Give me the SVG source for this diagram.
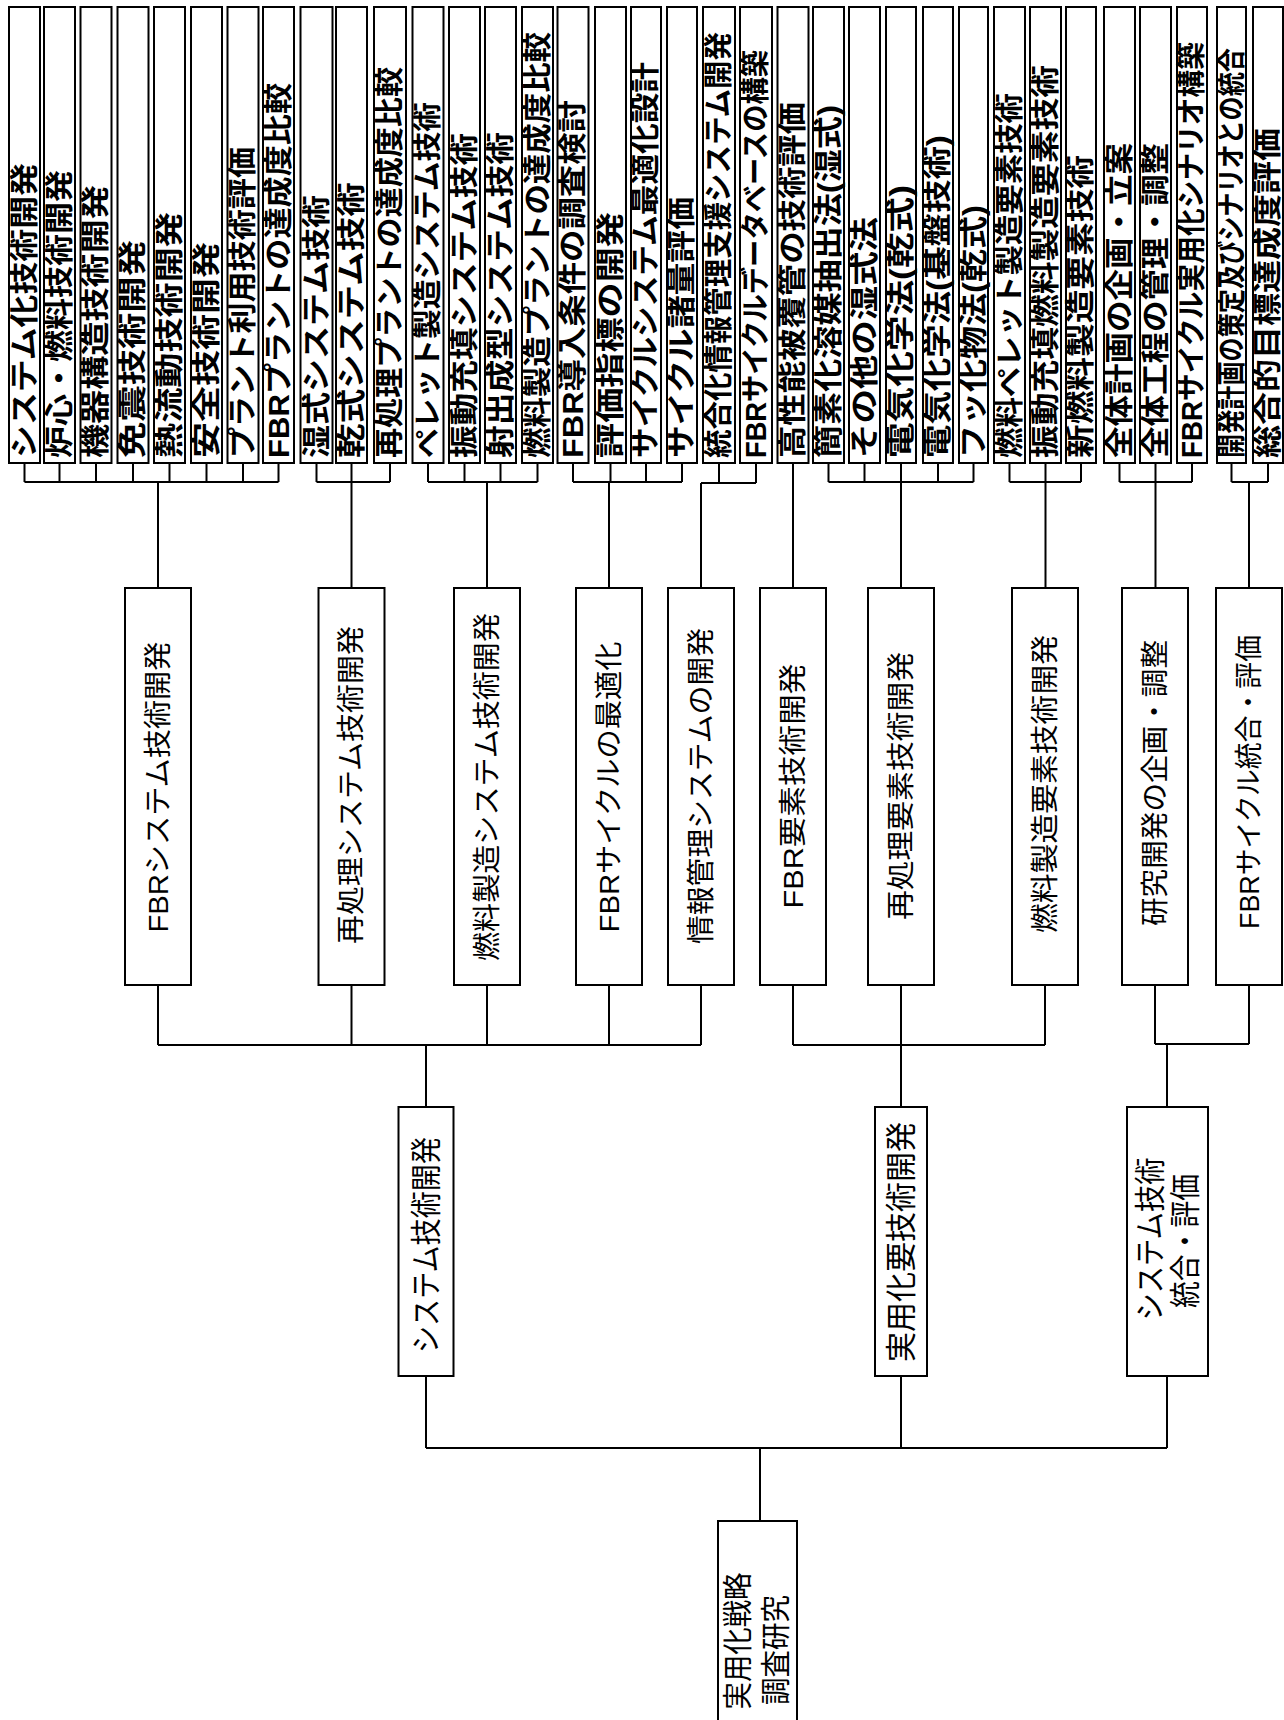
<svg xmlns="http://www.w3.org/2000/svg" width="1284" height="1720" viewBox="0 0 1284 1720">
<style>
.bx{fill:#fff;stroke:#000;stroke-width:2}
.cn{fill:none;stroke:#000;stroke-width:2}
text{font-family:"Liberation Sans","Noto Sans CJK JP",sans-serif;fill:#000;dominant-baseline:central}
.lf{font-size:29px;font-weight:bold}
.md{font-size:28px;text-anchor:middle}
.l1{font-size:31px;text-anchor:middle}
.rt{font-size:30px;text-anchor:middle}
</style>
<rect width="1284" height="1720" fill="#fff"/>
<g id="connectors" class="cn">
<path d="M24.5,463V482M59.5,463V482M96,463V482M133,463V482M169.5,463V482M206.5,463V482M243,463V482M278.5,463V482M24.5,482H278.5M158,482V588"/>
<path d="M316.5,463V482M351.5,463V588M390,463V482M316.5,482H390"/>
<path d="M428,463V482M464.5,463V482M500.5,463V482M537.5,463V482M428,482H537.5M487,482V588"/>
<path d="M573,463V482M610.5,463V482M646,463V482M682,463V482M573,482H682M609,482V588"/>
<path d="M719,463V483M756,463V483M701,483H756M701,483V588"/>
<path d="M793,463V588"/>
<path d="M828.5,463V482M864.5,463V482M901,463V588M938,463V482M973.5,463V482M828.5,482H973.5"/>
<path d="M1009.5,463V482M1045.5,463V588M1081,463V482M1009.5,482H1081"/>
<path d="M1119.5,463V482M1155.5,463V588M1192,463V482M1119.5,482H1192"/>
<path d="M1231.5,463V482M1268,463V482M1231.5,482H1268M1249,482V588"/>
<path d="M158,985V1045M351.5,985V1045M487,985V1045M609,985V1045M701,985V1045M158,1045H701M426,1045V1107"/>
<path d="M793,985V1045M901,985V1107M1045,985V1045M793,1045H1045"/>
<path d="M1155,985V1044M1249,985V1044M1155,1044H1249M1167,1044V1107"/>
<path d="M426,1376V1448M901,1376V1448M1167,1376V1448M426,1448H1167M760,1448V1521"/>
</g>
<g id="leaf1"><rect class="bx" x="9" y="7" width="31" height="456"/><text class="lf" transform="translate(24.5,458) rotate(-90)" textLength="295" lengthAdjust="spacingAndGlyphs">システム化技術開発</text></g>
<g id="leaf2"><rect class="bx" x="44" y="7" width="31" height="456"/><text class="lf" transform="translate(59.5,458) rotate(-90)" textLength="288" lengthAdjust="spacingAndGlyphs">炉心・燃料技術開発</text></g>
<g id="leaf3"><rect class="bx" x="80.5" y="7" width="31" height="456"/><text class="lf" transform="translate(96,458) rotate(-90)" textLength="273" lengthAdjust="spacingAndGlyphs">機器構造技術開発</text></g>
<g id="leaf4"><rect class="bx" x="117.5" y="7" width="31" height="456"/><text class="lf" transform="translate(133,458) rotate(-90)" textLength="218" lengthAdjust="spacingAndGlyphs">免震技術開発</text></g>
<g id="leaf5"><rect class="bx" x="154" y="7" width="31" height="456"/><text class="lf" transform="translate(169.5,458) rotate(-90)" textLength="246" lengthAdjust="spacingAndGlyphs">熱流動技術開発</text></g>
<g id="leaf6"><rect class="bx" x="191" y="7" width="31" height="456"/><text class="lf" transform="translate(206.5,458) rotate(-90)" textLength="216" lengthAdjust="spacingAndGlyphs">安全技術開発</text></g>
<g id="leaf7"><rect class="bx" x="227.5" y="7" width="31" height="456"/><text class="lf" transform="translate(243,458) rotate(-90)" textLength="311" lengthAdjust="spacingAndGlyphs">プラント利用技術評価</text></g>
<g id="leaf8"><rect class="bx" x="263" y="7" width="31" height="456"/><text class="lf" transform="translate(278.5,458) rotate(-90)" textLength="375" lengthAdjust="spacingAndGlyphs">FBRプラントの達成度比較</text></g>
<g id="leaf9"><rect class="bx" x="300.5" y="7" width="32" height="456"/><text class="lf" transform="translate(316.5,458) rotate(-90)" textLength="263" lengthAdjust="spacingAndGlyphs">湿式システム技術</text></g>
<g id="leaf10"><rect class="bx" x="336" y="7" width="31" height="456"/><text class="lf" transform="translate(351.5,458) rotate(-90)" textLength="276" lengthAdjust="spacingAndGlyphs">乾式システム技術</text></g>
<g id="leaf11"><rect class="bx" x="374" y="7" width="32" height="456"/><text class="lf" transform="translate(390,458) rotate(-90)" textLength="391" lengthAdjust="spacingAndGlyphs">再処理プラントの達成度比較</text></g>
<g id="leaf12"><rect class="bx" x="412.5" y="7" width="31" height="456"/><text class="lf" transform="translate(428,458) rotate(-90)" textLength="356" lengthAdjust="spacingAndGlyphs">ペレット製造システム技術</text></g>
<g id="leaf13"><rect class="bx" x="449" y="7" width="31" height="456"/><text class="lf" transform="translate(464.5,458) rotate(-90)" textLength="325" lengthAdjust="spacingAndGlyphs">振動充填システム技術</text></g>
<g id="leaf14"><rect class="bx" x="485" y="7" width="31" height="456"/><text class="lf" transform="translate(500.5,458) rotate(-90)" textLength="326" lengthAdjust="spacingAndGlyphs">射出成型システム技術</text></g>
<g id="leaf15"><rect class="bx" x="522" y="7" width="31" height="456"/><text class="lf" transform="translate(537.5,458) rotate(-90)" textLength="426" lengthAdjust="spacingAndGlyphs">燃料製造プラントの達成度比較</text></g>
<g id="leaf16"><rect class="bx" x="557.5" y="7" width="31" height="456"/><text class="lf" transform="translate(573,458) rotate(-90)" textLength="358" lengthAdjust="spacingAndGlyphs">FBR導入条件の調査検討</text></g>
<g id="leaf17"><rect class="bx" x="595" y="7" width="31" height="456"/><text class="lf" transform="translate(610.5,458) rotate(-90)" textLength="246" lengthAdjust="spacingAndGlyphs">評価指標の開発</text></g>
<g id="leaf18"><rect class="bx" x="631" y="7" width="30" height="456"/><text class="lf" transform="translate(646,458) rotate(-90)" textLength="396" lengthAdjust="spacingAndGlyphs">サイクルシステム最適化設計</text></g>
<g id="leaf19"><rect class="bx" x="667" y="7" width="30" height="456"/><text class="lf" transform="translate(682,458) rotate(-90)" textLength="261" lengthAdjust="spacingAndGlyphs">サイクル諸量評価</text></g>
<g id="leaf20"><rect class="bx" x="703" y="7" width="32" height="456"/><text class="lf" transform="translate(719,458) rotate(-90)" textLength="426" lengthAdjust="spacingAndGlyphs">統合化情報管理支援システム開発</text></g>
<g id="leaf21"><rect class="bx" x="740" y="7" width="32" height="456"/><text class="lf" transform="translate(756,458) rotate(-90)" textLength="408" lengthAdjust="spacingAndGlyphs">FBRサイクルデータベースの構築</text></g>
<g id="leaf22"><rect class="bx" x="777.5" y="7" width="31" height="456"/><text class="lf" transform="translate(793,458) rotate(-90)" textLength="356" lengthAdjust="spacingAndGlyphs">高性能被覆管の技術評価</text></g>
<g id="leaf23"><rect class="bx" x="813" y="7" width="31" height="456"/><text class="lf" transform="translate(828.5,458) rotate(-90)" textLength="353" lengthAdjust="spacingAndGlyphs">簡素化溶媒抽出法(湿式)</text></g>
<g id="leaf24"><rect class="bx" x="849" y="7" width="31" height="456"/><text class="lf" transform="translate(864.5,458) rotate(-90)" textLength="241" lengthAdjust="spacingAndGlyphs">その他の湿式法</text></g>
<g id="leaf25"><rect class="bx" x="886" y="7" width="30" height="456"/><text class="lf" transform="translate(901,458) rotate(-90)" textLength="273" lengthAdjust="spacingAndGlyphs">電気化学法(乾式)</text></g>
<g id="leaf26"><rect class="bx" x="923" y="7" width="30" height="456"/><text class="lf" transform="translate(938,458) rotate(-90)" textLength="323" lengthAdjust="spacingAndGlyphs">電気化学法(基盤技術)</text></g>
<g id="leaf27"><rect class="bx" x="959" y="7" width="29" height="456"/><text class="lf" transform="translate(973.5,458) rotate(-90)" textLength="253" lengthAdjust="spacingAndGlyphs">フッ化物法(乾式)</text></g>
<g id="leaf28"><rect class="bx" x="994" y="7" width="31" height="456"/><text class="lf" transform="translate(1009.5,458) rotate(-90)" textLength="365" lengthAdjust="spacingAndGlyphs">燃料ペレット製造要素技術</text></g>
<g id="leaf29"><rect class="bx" x="1030" y="7" width="31" height="456"/><text class="lf" transform="translate(1045.5,458) rotate(-90)" textLength="393" lengthAdjust="spacingAndGlyphs">振動充填燃料製造要素技術</text></g>
<g id="leaf30"><rect class="bx" x="1066" y="7" width="30" height="456"/><text class="lf" transform="translate(1081,458) rotate(-90)" textLength="303" lengthAdjust="spacingAndGlyphs">新燃料製造要素技術</text></g>
<g id="leaf31"><rect class="bx" x="1104" y="7" width="31" height="456"/><text class="lf" transform="translate(1119.5,458) rotate(-90)" textLength="315" lengthAdjust="spacingAndGlyphs">全体計画の企画・立案</text></g>
<g id="leaf32"><rect class="bx" x="1140" y="7" width="31" height="456"/><text class="lf" transform="translate(1155.5,458) rotate(-90)" textLength="315" lengthAdjust="spacingAndGlyphs">全体工程の管理・調整</text></g>
<g id="leaf33"><rect class="bx" x="1177" y="7" width="30" height="456"/><text class="lf" transform="translate(1192,458) rotate(-90)" textLength="416" lengthAdjust="spacingAndGlyphs">FBRサイクル実用化シナリオ構築</text></g>
<g id="leaf34"><rect class="bx" x="1217" y="7" width="29" height="456"/><text class="lf" transform="translate(1231.5,458) rotate(-90)" textLength="410" lengthAdjust="spacingAndGlyphs">開発計画の策定及びシナリオとの統合</text></g>
<g id="leaf35"><rect class="bx" x="1253" y="7" width="30" height="456"/><text class="lf" transform="translate(1268,458) rotate(-90)" textLength="330" lengthAdjust="spacingAndGlyphs">総合的目標達成度評価</text></g>
<g id="mid-fbr-system"><rect class="bx" x="125" y="588" width="66" height="397"/><text class="md" transform="translate(158,787) rotate(-90)" textLength="291" lengthAdjust="spacingAndGlyphs">FBRシステム技術開発</text></g>
<g id="mid-reprocessing-system"><rect class="bx" x="318.5" y="588" width="66" height="397"/><text class="md" transform="translate(351.5,785) rotate(-90)" textLength="318" lengthAdjust="spacingAndGlyphs">再処理システム技術開発</text></g>
<g id="mid-fuel-system"><rect class="bx" x="454" y="588" width="66" height="397"/><text class="md" transform="translate(487,787) rotate(-90)" textLength="348" lengthAdjust="spacingAndGlyphs">燃料製造システム技術開発</text></g>
<g id="mid-cycle-opt"><rect class="bx" x="576" y="588" width="66" height="397"/><text class="md" transform="translate(609,787) rotate(-90)" textLength="291" lengthAdjust="spacingAndGlyphs">FBRサイクルの最適化</text></g>
<g id="mid-info"><rect class="bx" x="668" y="588" width="66" height="397"/><text class="md" transform="translate(701,786) rotate(-90)" textLength="316" lengthAdjust="spacingAndGlyphs">情報管理システムの開発</text></g>
<g id="mid-fbr-element"><rect class="bx" x="760" y="588" width="66" height="397"/><text class="md" transform="translate(793,786) rotate(-90)" textLength="245" lengthAdjust="spacingAndGlyphs">FBR要素技術開発</text></g>
<g id="mid-reprocessing-element"><rect class="bx" x="868" y="588" width="66" height="397"/><text class="md" transform="translate(901,786) rotate(-90)" textLength="268" lengthAdjust="spacingAndGlyphs">再処理要素技術開発</text></g>
<g id="mid-fuel-element"><rect class="bx" x="1012" y="588" width="66" height="397"/><text class="md" transform="translate(1045,784) rotate(-90)" textLength="298" lengthAdjust="spacingAndGlyphs">燃料製造要素技術開発</text></g>
<g id="mid-planning"><rect class="bx" x="1122" y="588" width="66" height="397"/><text class="md" transform="translate(1155,783) rotate(-90)" textLength="286" lengthAdjust="spacingAndGlyphs">研究開発の企画・調整</text></g>
<g id="mid-cycle-eval"><rect class="bx" x="1216" y="588" width="66" height="397"/><text class="md" transform="translate(1249,782) rotate(-90)" textLength="294" lengthAdjust="spacingAndGlyphs">FBRサイクル統合・評価</text></g>
<g id="sys-tech"><rect class="bx" x="398.5" y="1107" width="55" height="269"/><text class="l1" transform="translate(426,1245) rotate(-90)" textLength="216" lengthAdjust="spacingAndGlyphs">システム技術開発</text></g>
<g id="practical-tech"><rect class="bx" x="875" y="1107" width="52" height="269"/><text class="l1" transform="translate(901,1242) rotate(-90)" textLength="240" lengthAdjust="spacingAndGlyphs">実用化要技術開発</text></g>
<g id="sys-integration"><rect class="bx" x="1127" y="1107" width="81" height="269"/><text class="l1" transform="translate(1150,1239) rotate(-90)" textLength="163" lengthAdjust="spacingAndGlyphs">システム技術</text><text class="l1" transform="translate(1185,1241) rotate(-90)" textLength="134" lengthAdjust="spacingAndGlyphs">統合・評価</text></g>
<g id="root"><rect class="bx" x="718" y="1521" width="79" height="202"/><text class="rt" transform="translate(737,1641) rotate(-90)" textLength="137" lengthAdjust="spacingAndGlyphs">実用化戦略</text><text class="rt" transform="translate(775,1650) rotate(-90)" textLength="110" lengthAdjust="spacingAndGlyphs">調査研究</text></g>
</svg>
